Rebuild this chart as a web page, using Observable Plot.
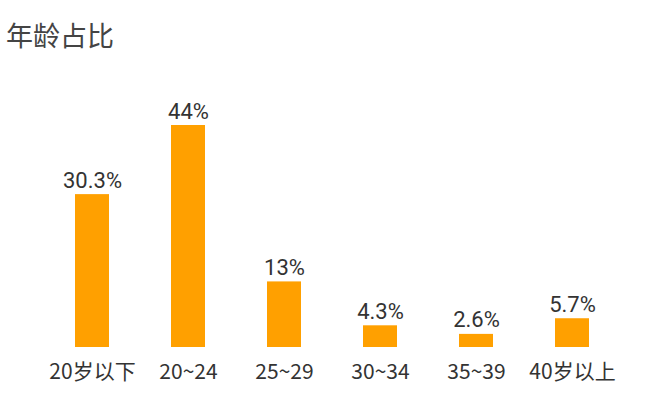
<!DOCTYPE html>
<html>
<head>
<meta charset="utf-8">
<script src="https://cdn.jsdelivr.net/npm/d3@7"></script>
<script src="https://cdn.jsdelivr.net/npm/@observablehq/plot@0.6"></script>
<style>
  html, body { margin: 0; padding: 0; background: #fff; }
  #wrap { position: relative; width: 660px; height: 400px; }
  #title { position: absolute; left: 6px; top: 21px; font-family: "Noto Sans CJK SC", sans-serif; font-size: 27px; color: #444; line-height: 1; }
  #chart { position: absolute; left: 0; top: 0; }
</style>
</head>
<body>
<div id="wrap">
  <div id="chart"></div>
  <div id="title">年龄占比</div>
</div>
<script>
const categories = ["20岁以下", "20~24", "25~29", "30~34", "35~39", "40岁以上"];
const values = [30.3, 44, 13, 4.3, 2.6, 5.7];
const valueLabels = ["30.3%", "44%", "13%", "4.3%", "2.6%", "5.7%"];

const data = categories.map((c, i) => ({ category: c, value: values[i], label: valueLabels[i] }));

const chart = Plot.plot({
  width: 660,
  height: 400,
  marginLeft: 74,
  marginRight: 71,
  marginTop: 125,
  marginBottom: 53,
  style: { fontFamily: "'Noto Sans CJK SC', sans-serif", background: "transparent" },
  x: { domain: categories, paddingInner: 0.646, paddingOuter: 0, label: null },
  y: { domain: [0, 44], axis: null },
  marks: [
    Plot.barY(data, { x: "category", y: "value", fill: "#FFA000" }),
    Plot.text(data, { x: "category", y: "value", text: "label", lineAnchor: "bottom", dy: -7, fontSize: 22, fontFamily: "Roboto, sans-serif", fill: "#333" }),
    Plot.axisX({ tickSize: 0, tickPadding: 17, fontSize: 21, color: "#333", label: null })
  ]
});
document.getElementById("chart").appendChild(chart);
</script>
</body>
</html>
